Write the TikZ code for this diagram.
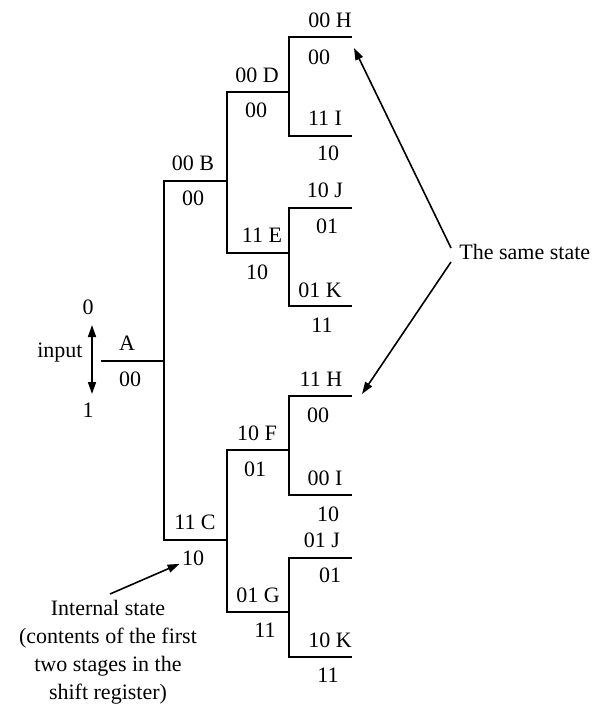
\documentclass[tikz,border=0pt]{standalone}
\usepackage{fontspec}
\setmainfont{Liberation Serif}
\usetikzlibrary{arrows.meta, positioning}

\begin{document}
\begin{tikzpicture}[
    x=0.5pt, y=-0.5pt,
    br/.style={line width=0.9pt},
    arr/.style={line width=0.8pt, -{Triangle[length=6pt, width=4pt]}},
    lbl/.style={font=\fontsize{11}{14}\selectfont, inner sep=1pt},
    note/.style={font=\fontsize{11}{14}\selectfont, align=center, inner sep=1pt}
  ]
    \useasboundingbox (0,0) rectangle (594,711);

    %% branch end points
    \coordinate (A0) at (101,361); \coordinate (A1) at (164,361);
    \coordinate (B0) at (164,181); \coordinate (B1) at (227,181);
    \coordinate (C0) at (164,540); \coordinate (C1) at (227,540);
    \coordinate (D0) at (227,92);  \coordinate (D1) at (289,92);
    \coordinate (E0) at (227,253); \coordinate (E1) at (289,253);
    \coordinate (F0) at (227,450); \coordinate (F1) at (289,450);
    \coordinate (G0) at (227,612); \coordinate (G1) at (289,612);
    \coordinate (H0) at (289,37);  \coordinate (H1) at (352,37);
    \coordinate (I0) at (289,136); \coordinate (I1) at (352,136);
    \coordinate (J0) at (289,208); \coordinate (J1) at (352,208);
    \coordinate (K0) at (289,306); \coordinate (K1) at (352,306);
    \coordinate (Hb0) at (289,396); \coordinate (Hb1) at (352,396);
    \coordinate (Ib0) at (289,495); \coordinate (Ib1) at (352,495);
    \coordinate (Jb0) at (289,558); \coordinate (Jb1) at (352,558);
    \coordinate (Kb0) at (289,657); \coordinate (Kb1) at (352,657);

    %% the tree
    \draw[br] (A0) -- (A1);
    \draw[br] (B1) -- (B0) -- (C0) -- (C1);
    \draw[br] (D1) -- (D0) -- (E0) -- (E1);
    \draw[br] (F1) -- (F0) -- (G0) -- (G1);
    \draw[br] (H1) -- (H0) -- (I0) -- (I1);
    \draw[br] (J1) -- (J0) -- (K0) -- (K1);
    \draw[br] (Hb1) -- (Hb0) -- (Ib0) -- (Ib1);
    \draw[br] (Jb1) -- (Jb0) -- (Kb0) -- (Kb1);

    %% state labels (output above, register below)
    \node[lbl] (At) at (127,343) {A};    \node[lbl] (Ab) at (130,379) {00};
    \node[lbl] (Bt) at (193,163) {00 B}; \node[lbl] (Bb) at (193,198) {00};
    \node[lbl] (Ct) at (195,522) {11 C}; \node[lbl] (Cb) at (193,558) {10};
    \node[lbl] (Dt) at (257,75)  {00 D}; \node[lbl] (Db) at (256,110) {00};
    \node[lbl] (Et) at (262,235) {11 E}; \node[lbl] (Eb) at (257,272) {10};
    \node[lbl] (Ft) at (257,433) {10 F}; \node[lbl] (Fb) at (255,469) {01};
    \node[lbl] (Gt) at (258,595) {01 G}; \node[lbl] (Gb) at (265,630) {11};
    \node[lbl] (Ht) at (330,20)  {00 H}; \node[lbl] (Hb) at (319,57)  {00};
    \node[lbl] (It) at (325,118) {11 I}; \node[lbl] (Ib) at (328,153) {10};
    \node[lbl] (Jt) at (325,190) {10 J}; \node[lbl] (Jb) at (327,226) {01};
    \node[lbl] (Kt) at (320,290) {01 K}; \node[lbl] (Kb) at (322,325) {11};
    \node[lbl] (H2t) at (321,379) {11 H}; \node[lbl] (H2b) at (318,415) {00};
    \node[lbl] (I2t) at (325,478) {00 I}; \node[lbl] (I2b) at (328,514) {10};
    \node[lbl] (J2t) at (322,540) {01 J}; \node[lbl] (J2b) at (330,575) {01};
    \node[lbl] (K2t) at (330,640) {10 K}; \node[lbl] (K2b) at (328,675) {11};

    %% input
    \node[lbl] (zero) at (88,307) {0};
    \node[lbl] (one) at (88,410) {1};
    \node[lbl, anchor=east] (inp) at (85,353) {input};
    \coordinate (up) at (92,325); \coordinate (dn) at (92,394);
    \draw[arr, {Triangle[length=6pt, width=4pt]}-{Triangle[length=6pt, width=4pt]}] (up) -- (dn);

    %% notes
    \node[lbl, anchor=west] (same) at (457,252) {The same state};
    \draw[arr] ([shift={(-6,-4)}]same.west) -- ([shift={(2,11)}]H1);
    \draw[arr] ([shift={(-6,10)}]same.west) -- ([shift={(10,-2)}]Hb1);

    \node[note, anchor=north] (intl) at (108,598)
      {Internal state\\(contents of the first\\two stages in the\\shift register)};
    \draw[arr] ([shift={(2,-4)}]intl.north) -- ([shift={(-11,9)}]Cb);
\end{tikzpicture}
\end{document}
